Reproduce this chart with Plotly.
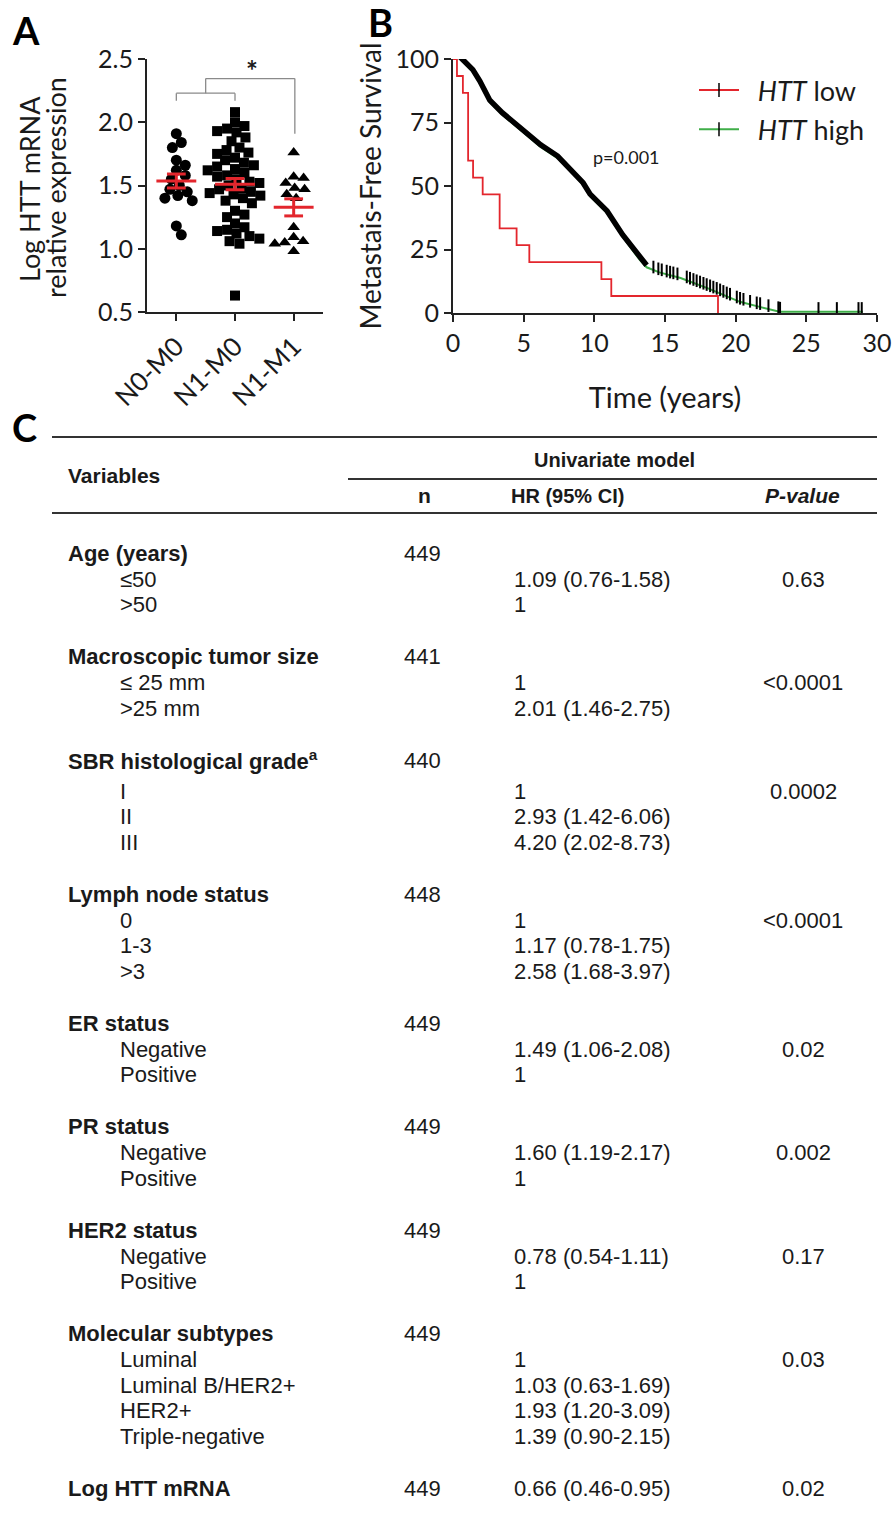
import numpy as np
import plotly.graph_objects as go

W, H = 893, 1523

# ---------------- Panel A data ----------------
groups = ["N0-M0", "N1-M0", "N1-M1"]
n0m0 = [1.91, 1.84, 1.80, 1.70, 1.66, 1.62, 1.58, 1.55, 1.50, 1.47, 1.45, 1.42, 1.40, 1.38, 1.18, 1.11]
n1m0 = [2.08, 2.00, 1.97, 1.95, 1.93, 1.92, 1.88, 1.85, 1.80, 1.78, 1.76, 1.75, 1.72, 1.70,
        1.68, 1.66, 1.65, 1.63, 1.62, 1.60, 1.58, 1.57, 1.55, 1.53, 1.52, 1.50, 1.48, 1.47,
        1.45, 1.44, 1.43, 1.42, 1.40, 1.38, 1.36, 1.30, 1.27, 1.25, 1.20, 1.17, 1.15, 1.14,
        1.12, 1.10, 1.08, 1.06, 1.04, 0.63]
n1m1 = [1.76, 1.57, 1.56, 1.52, 1.48, 1.47, 1.43, 1.40, 1.17, 1.09, 1.06, 1.05, 1.04, 0.98]
group_values = [n0m0, n1m0, n1m1]
group_symbols = ["circle", "square", "triangle-up"]
y_ticks_a = [0.5, 1.0, 1.5, 2.0, 2.5]

# ---------------- Panel B data ----------------
low_t = [0, 0.28, 0.7, 1.07, 1.42, 2.1, 3.3, 4.5, 5.4, 10.5, 11.2, 18.75]
low_s = [100, 93.3, 86.7, 60.0, 53.3, 46.7, 33.3, 26.7, 20.0, 13.3, 6.7, 0]

high_t = [0.5, 1.4, 1.9, 2.6, 3.5, 5.0, 6.2, 7.4, 8.5, 9.2, 9.7, 10.9, 12.0, 13.2, 13.7,
          14.6, 16.1, 18.0, 19.1, 20.3, 21.7, 23.1, 29.0]
high_s = [100, 95, 90.5, 83, 78, 71, 65.4, 61, 55, 50.5, 46, 39.4, 30, 21, 18,
          16, 13.8, 9.8, 7.1, 4.4, 2.4, 0.5, 0.5]
cens_t = [14.18, 14.53, 14.77, 15.12, 15.36, 15.59, 15.88, 16.54, 16.77, 17.01, 17.24, 17.48,
          17.72, 17.95, 18.19, 18.42, 18.66, 18.9, 19.13, 19.37, 19.6, 20.08, 20.31, 20.55,
          21.02, 21.49, 21.73, 22.32, 23.02, 23.14, 25.86, 27.16, 28.69, 28.92]
cens_s = [16.8, 16.1, 15.7, 15.2, 14.8, 14.5, 14.1, 12.9, 12.4, 11.9, 11.4, 10.9,
          10.4, 9.9, 9.4, 8.9, 8.4, 7.8, 7.2, 6.6, 6.1, 5.0, 4.5, 4.1,
          3.3, 2.7, 2.4, 1.6, 0.8, 0.6, 0.5, 0.5, 0.5, 0.5]
dense_end = 13.7
x_ticks_b = [0, 5, 10, 15, 20, 25, 30]
y_ticks_b = [0, 25, 50, 75, 100]

# ---------------- Panel C data ----------------
var_names = ["Age (years)", "Macroscopic tumor size", "SBR histological grade<sup>a</sup>",
             "Lymph node status", "ER status", "PR status", "HER2 status",
             "Molecular subtypes", "Log HTT mRNA"]
var_n = [449, 441, 440, 448, 449, 449, 449, 449, 449]
var_levels = [["≤50", ">50"], ["≤ 25 mm", ">25 mm"], ["I", "II", "III"], ["0", "1-3", ">3"],
              ["Negative", "Positive"], ["Negative", "Positive"], ["Negative", "Positive"],
              ["Luminal", "Luminal B/HER2+", "HER2+", "Triple-negative"], []]
var_hr = [["1.09 (0.76-1.58)", "1"], ["1", "2.01 (1.46-2.75)"],
          ["1", "2.93 (1.42-6.06)", "4.20 (2.02-8.73)"],
          ["1", "1.17 (0.78-1.75)", "2.58 (1.68-3.97)"],
          ["1.49 (1.06-2.08)", "1"], ["1.60 (1.19-2.17)", "1"], ["0.78 (0.54-1.11)", "1"],
          ["1", "1.03 (0.63-1.69)", "1.93 (1.20-3.09)", "1.39 (0.90-2.15)"],
          ["0.66 (0.46-0.95)"]]
var_p = ["0.63", "<0.0001", "0.0002", "<0.0001", "0.02", "0.002", "0.17", "0.03", "0.02"]


def fx(x):
    return x / W


def fy(y):
    return 1 - y / H


BLACK = "#1a1a1a"
RED = "#e3262d"
GREEN = "#3fae49"
LAB_FONT = "Lato"
TAB_FONT = "Liberation Sans, Arial, sans-serif"

fig = go.Figure()

# ---------- Panel A: beeswarm ----------
PX_X = 59.0     # pixels per category unit
PX_Y = 126.5    # pixels per y unit
DIAM = 10.0


def swarm(vals):
    placed = []
    offs = []
    for v in vals:
        yp = v * PX_Y
        best = None
        for k in range(0, 200):
            for sgn in ([1, -1] if k else [1]):
                o = sgn * k * 0.5
                ok = all((o - po) ** 2 + (yp - pyv) ** 2 >= DIAM ** 2 for po, pyv in placed)
                if ok:
                    best = o
                    break
            if best is not None:
                break
        placed.append((best, yp))
        offs.append(best / PX_X)
    return offs


for gi, (vals, sym) in enumerate(zip(group_values, group_symbols)):
    offs = swarm(vals)
    fig.add_trace(go.Scatter(
        x=[gi + o for o in offs], y=vals, mode="markers",
        marker=dict(symbol=sym, size=11 if sym != "square" else 10, color="black",
                    line=dict(width=0)),
        xaxis="x", yaxis="y", showlegend=False, cliponaxis=False))
    m = float(np.mean(vals))
    s = float(np.std(vals, ddof=1) / np.sqrt(len(vals)))
    hw, cw = 0.34, 0.16
    fig.add_trace(go.Scatter(
        x=[gi - hw, gi + hw, None, gi - cw, gi + cw, None, gi - cw, gi + cw, None, gi, gi],
        y=[m, m, None, m + s, m + s, None, m - s, m - s, None, m - s, m + s],
        mode="lines", line=dict(color=RED, width=3), xaxis="x", yaxis="y",
        showlegend=False, cliponaxis=False))

# significance brackets
br = dict(color="#8a8a8a", width=1.3)
fig.add_shape(type="line", xref="x", yref="y", x0=0, x1=1, y0=2.23, y1=2.23, line=br)
fig.add_shape(type="line", xref="x", yref="y", x0=0, x1=0, y0=2.23, y1=2.17, line=br)
fig.add_shape(type="line", xref="x", yref="y", x0=1, x1=1, y0=2.23, y1=2.17, line=br)
fig.add_shape(type="line", xref="x", yref="y", x0=0.5, x1=0.5, y0=2.23, y1=2.345, line=br)
fig.add_shape(type="line", xref="x", yref="y", x0=0.5, x1=2.02, y0=2.345, y1=2.345, line=br)
fig.add_shape(type="line", xref="x", yref="y", x0=2.02, x1=2.02, y0=2.345, y1=1.91, line=br)
fig.add_annotation(xref="x", yref="y", x=1.29, y=2.41, text="<b>*</b>", showarrow=False,
                   font=dict(family=LAB_FONT, size=28, color=BLACK))

# y-axis title of panel A (two tightly spaced lines)
fig.add_annotation(xref="paper", yref="paper", x=fx(30), y=fy(189), text="Log HTT mRNA",
                   textangle=-90, showarrow=False, xanchor="center", yanchor="middle",
                   font=dict(family=LAB_FONT, size=27, color=BLACK))
fig.add_annotation(xref="paper", yref="paper", x=fx(55), y=fy(188), text="relative expression",
                   textangle=-90, showarrow=False, xanchor="center", yanchor="middle",
                   font=dict(family=LAB_FONT, size=27, color=BLACK))

# ---------- Panel B: Kaplan-Meier ----------
fig.add_trace(go.Scatter(x=high_t, y=high_s, mode="lines", line=dict(color=GREEN, width=2),
                         xaxis="x2", yaxis="y2", showlegend=False, cliponaxis=False))
dense_t = [t for t in high_t if t <= dense_end]
dense_s = [s for t, s in zip(high_t, high_s) if t <= dense_end]
fig.add_trace(go.Scatter(x=dense_t, y=[s + 0.8 for s in dense_s], mode="lines",
                         line=dict(color="black", width=5.5),
                         xaxis="x2", yaxis="y2", showlegend=False, cliponaxis=False))
fig.add_trace(go.Scatter(x=cens_t, y=[s + 1.3 for s in cens_s], mode="markers",
                         marker=dict(symbol="line-ns", size=9, color="black",
                                     line=dict(color="black", width=2)),
                         xaxis="x2", yaxis="y2", showlegend=False, cliponaxis=False))
fig.add_trace(go.Scatter(x=low_t, y=low_s, mode="lines", line=dict(color=RED, width=1.8, shape="hv"),
                         xaxis="x2", yaxis="y2", showlegend=False, cliponaxis=False))
# legend entries
NB = "\u00a0\u00a0"
fig.add_trace(go.Scatter(x=[None], y=[None], mode="lines+markers", name=NB + "<i>HTT</i> low",
                         line=dict(color=RED, width=2),
                         marker=dict(symbol="line-ns", size=10, color="black",
                                     line=dict(color="black", width=1.5)),
                         xaxis="x2", yaxis="y2", legendgroup="a"))
fig.add_trace(go.Scatter(x=[None], y=[None], mode="lines+markers", name=NB + "<i>HTT</i> high",
                         line=dict(color=GREEN, width=2),
                         marker=dict(symbol="line-ns", size=10, color="black",
                                     line=dict(color="black", width=1.5)),
                         xaxis="x2", yaxis="y2", legendgroup="b"))
fig.add_annotation(xref="x2", yref="y2", x=12.3, y=61.5, text="p=0.001", showarrow=False,
                   font=dict(family=LAB_FONT, size=18, color=BLACK))

# ---------- Panel labels ----------
for lab, x, y in [("A", 26, 30), ("B", 380, 22), ("C", 24, 427)]:
    fig.add_annotation(xref="paper", yref="paper", x=fx(x), y=fy(y), text=f"<b>{lab}</b>",
                       showarrow=False, xanchor="center", yanchor="middle",
                       font=dict(family=LAB_FONT, size=38, color="black"))

# ---------- Panel C: table ----------
line_col = "#333333"
for (x0, x1, y) in [(52, 877, 437), (348, 877, 479), (52, 877, 513)]:
    fig.add_shape(type="line", xref="paper", yref="paper", x0=fx(x0), x1=fx(x1),
                  y0=fy(y), y1=fy(y), line=dict(color=line_col, width=1.8))

TS = 22
def tab(text, x, y, anchor="left", bold=False, size=TS):
    fig.add_annotation(xref="paper", yref="paper", x=fx(x), y=fy(y),
                       text=f"<b>{text}</b>" if bold else text, showarrow=False,
                       xanchor=anchor, yanchor="middle",
                       font=dict(family=TAB_FONT, size=size, color=BLACK))

tab("Variables", 66, 476, bold=True, size=21)
tab("Univariate model", 614, 460, anchor="center", bold=True, size=20)
tab("n", 424, 496, anchor="center", bold=True, size=21)
tab("HR (95% CI)", 567, 496, anchor="center", bold=True, size=20)
tab("<i>P-value</i>", 802, 496, anchor="center", bold=True, size=21)

X_VAR, X_LEV, X_N, X_HR, X_P = 66, 118, 402, 512, 803
y = 553.0
for i, name in enumerate(var_names):
    tab(name, X_VAR, y, bold=True)
    tab(str(var_n[i]), X_N, y)
    levs = var_levels[i]
    if not levs:
        tab(var_hr[i][0], X_HR, y)
        tab(var_p[i], X_P, y, anchor="center")
        y += 52
        continue
    y += 31 if i == 2 else 26
    for j, lev in enumerate(levs):
        tab(lev, X_LEV, y)
        tab(var_hr[i][j], X_HR, y)
        if j == 0:
            tab(var_p[i], X_P, y, anchor="center")
        if j < len(levs) - 1:
            y += 25.5
    y += 52

# ---------- Layout ----------
axis_common = dict(showgrid=False, zeroline=False, showline=True, linecolor="#222222",
                   linewidth=2, ticks="outside", ticklen=7, tickwidth=2, tickcolor="#222222",
                   automargin=False)
tf = dict(family=LAB_FONT, size=25, color=BLACK)

fig.update_layout(
    width=W, height=H, margin=dict(l=0, r=0, t=0, b=0, autoexpand=False),
    paper_bgcolor="white", plot_bgcolor="white",
    xaxis=dict(domain=[fx(147), fx(323)], range=[-0.5, 2.5], tickvals=[0, 1, 2],
               ticktext=groups, tickangle=-45, anchor="y", ticklabelstandoff=0,
               tickfont=dict(family=LAB_FONT, size=26, color=BLACK), **axis_common),
    yaxis=dict(domain=[fy(312), fy(59)], range=[0.5, 2.5], tickvals=y_ticks_a,
               tickformat=".1f", anchor="x", tickfont=tf, **axis_common),
    xaxis2=dict(domain=[fx(453), fx(877)], range=[0, 30], tickvals=x_ticks_b, anchor="y2",
                tickfont=tf,
                title=dict(text="Time (years)", standoff=32,
                           font=dict(family=LAB_FONT, size=29, color=BLACK)),
                **axis_common),
    yaxis2=dict(domain=[fy(313), fy(59)], range=[0, 100], tickvals=y_ticks_b, anchor="x2",
                tickfont=tf,
                title=dict(text="Metastais-Free Survival", standoff=6,
                           font=dict(family=LAB_FONT, size=28, color=BLACK)),
                **axis_common),
    legend=dict(x=fx(694), y=fy(66), xanchor="left", yanchor="top", itemwidth=40,
                tracegroupgap=1, bgcolor="rgba(0,0,0,0)",
                font=dict(family=LAB_FONT, size=27, color=BLACK)),
)

fig.write_html("out.html", config={"displayModeBar": False},
               post_script="document.body.style.margin='0px';document.body.style.padding='0px';"
                           "document.body.style.overflow='hidden';")
